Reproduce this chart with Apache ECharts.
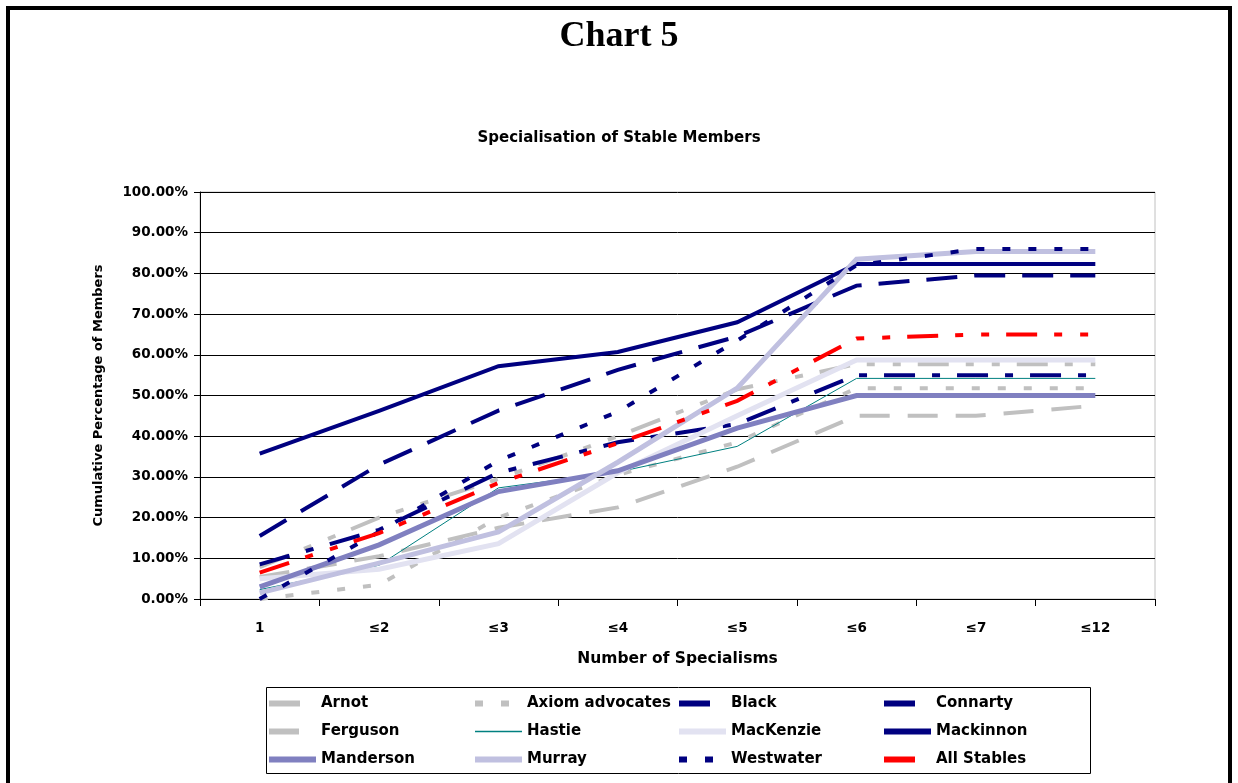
<!DOCTYPE html>
<html>
<head>
<meta charset="utf-8">
<script src="https://cdn.jsdelivr.net/npm/echarts@6/dist/echarts.min.js"></script>
<style>
html,body{margin:0;padding:0;background:#fff;}
#chart{width:1238px;height:783px;}
</style>
</head>
<body>
<div id="chart"></div>
<script>
// ---- data (cumulative percentage of members) ----
var categories = ['1', '\u22642', '\u22643', '\u22644', '\u22645', '\u22646', '\u22647', '\u226412'];
var yTicks = [0, 10, 20, 30, 40, 50, 60, 70, 80, 90, 100];
var arnot      = [7.8, 20.0, 29.5, 40.0, 51.5, 57.7, 57.7, 57.7];
var axiom      = [0.0, 3.5, 20.0, 30.5, 38.5, 51.8, 51.8, 51.8];
var black      = [8.5, 17.0, 31.0, 38.5, 43.0, 55.0, 55.0, 55.0];
var connarty   = [15.5, 33.0, 46.3, 56.3, 64.5, 77.0, 79.5, 79.5];
var ferguson   = [5.4, 10.5, 17.5, 22.5, 32.5, 45.0, 45.0, 47.5];
var hastie     = [2.3, 8.3, 27.3, 31.2, 37.5, 54.2, 54.2, 54.2];
var mackenzie  = [5.0, 7.3, 13.6, 31.0, 45.0, 58.7, 58.7, 58.7];
var mackinnon  = [35.7, 46.2, 57.2, 60.7, 68.0, 82.3, 82.3, 82.3];
var manderson  = [3.0, 13.3, 26.4, 31.5, 42.0, 50.0, 50.0, 50.0];
var murray     = [1.5, 8.8, 16.5, 33.6, 51.8, 83.5, 85.4, 85.4];
var westwater  = [0.0, 16.5, 34.0, 46.0, 63.5, 82.0, 86.0, 86.0];
var allStables = [6.5, 16.2, 28.5, 38.3, 48.7, 64.0, 65.0, 65.0];

var FONT = 'DejaVu Sans';

function mk(name, data, color, width, dash) {
  return {
    name: name, type: 'line', data: data, symbol: 'none', smooth: false,
    lineStyle: { color: color, width: width, type: dash || 'solid', cap: 'butt', join: 'miter' },
    itemStyle: { color: color },
    emphasis: { disabled: true },
    animation: false
  };
}
var LONG = [31, 17], SHORT = [8, 18], DASHDOT = [31, 17, 8, 17], DASHDOTDOT = [31, 17, 8, 18, 8, 17];
var series = [
  mk('Arnot', arnot, '#C0C0C0', 4, DASHDOTDOT),
  mk('Axiom advocates', axiom, '#C0C0C0', 4, SHORT),
  mk('Black', black, '#000080', 4, DASHDOT),
  mk('Connarty', connarty, '#000080', 4, LONG),
  mk('Ferguson', ferguson, '#C0C0C0', 4, [30, 18]),
  mk('Hastie', hastie, '#008080', 1, 'solid'),
  mk('MacKenzie', mackenzie, '#E2E2F1', 5, 'solid'),
  mk('Mackinnon', mackinnon, '#000080', 4, 'solid'),
  mk('Manderson', manderson, '#8080C0', 5, 'solid'),
  mk('Murray', murray, '#C0C0E0', 5, 'solid'),
  mk('Westwater', westwater, '#000080', 4, SHORT),
  mk('All Stables', allStables, '#FF0000', 4, DASHDOTDOT)
];

var legendCols = [
  ['Arnot', 'Ferguson', 'Manderson'],
  ['Axiom advocates', 'Hastie', 'Murray'],
  ['Black', 'MacKenzie', 'Westwater'],
  ['Connarty', 'Mackinnon', 'All Stables']
];
var legendLeft = [266, 472, 676, 881];
var legends = legendCols.map(function (col, i) {
  return {
    data: col.map(function (n) {
      return { name: n, lineStyle: { width: n === 'Hastie' ? 1.5 : 6 } };
    }),
    orient: 'vertical', left: legendLeft[i], top: 696,
    itemWidth: 47, itemHeight: 14, itemGap: 13, padding: 0,
    selectedMode: false,
    itemStyle: { opacity: 0 },
    textStyle: { fontFamily: FONT, fontWeight: 'bold', fontSize: 15, color: '#000' }
  };
});

var chart = echarts.init(document.getElementById('chart'), null, { renderer: 'canvas' });
chart.setOption({
  animation: false,
  backgroundColor: '#fff',
  title: [
    { text: 'Chart 5', left: 'center', top: 14,
      textStyle: { fontFamily: 'Liberation Serif', fontWeight: 'bold', fontSize: 36, color: '#000' } },
    { text: 'Specialisation of Stable Members', left: 'center', top: 126,
      textStyle: { fontFamily: FONT, fontWeight: 'bold', fontSize: 15, color: '#000' } }
  ],
  legend: legends,
  grid: { left: 200, right: 83, top: 192, bottom: 184, show: true, borderColor: '#C0C0C0', borderWidth: 1, backgroundColor: 'transparent' },
  xAxis: {
    type: 'category', data: categories, boundaryGap: true,
    name: 'Number of Specialisms', nameLocation: 'middle', nameGap: 52,
    nameTextStyle: { fontFamily: FONT, fontWeight: 'bold', fontSize: 15.5, color: '#000' },
    axisLine: { lineStyle: { color: '#000', width: 1 } },
    axisTick: { show: true, length: 7, alignWithLabel: false, lineStyle: { color: '#000' } },
    axisLabel: { margin: 22, fontFamily: FONT, fontWeight: 'bold', fontSize: 13.5, color: '#000' },
    splitLine: { show: false }
  },
  yAxis: {
    type: 'value', min: yTicks[0], max: yTicks[yTicks.length - 1], interval: 10,
    name: 'Cumulative Percentage of Members', nameLocation: 'middle', nameGap: 95, nameRotate: 90,
    nameTextStyle: { fontFamily: FONT, fontWeight: 'bold', fontSize: 13, color: '#000' },
    axisLine: { show: true, lineStyle: { color: '#000', width: 1 } },
    axisTick: { show: true, length: 6, inside: false, lineStyle: { color: '#000' } },
    axisLabel: { margin: 12, fontFamily: FONT, fontWeight: 'bold', fontSize: 13.5, color: '#000',
      formatter: function (v) { return v.toFixed(2) + '%'; } },
    splitLine: { show: true, lineStyle: { color: '#000', width: 1 } }
  },
  series: series,
  graphic: [
    { type: 'rect', shape: { x: 8, y: 8, width: 1222, height: 800 }, style: { fill: 'none', stroke: '#000', lineWidth: 4 }, silent: true, z: 100 },
    { type: 'rect', shape: { x: 266.5, y: 687.5, width: 824, height: 86 }, style: { fill: 'none', stroke: '#000', lineWidth: 1 }, silent: true, z: 100 }
  ]
});
</script>
</body>
</html>
